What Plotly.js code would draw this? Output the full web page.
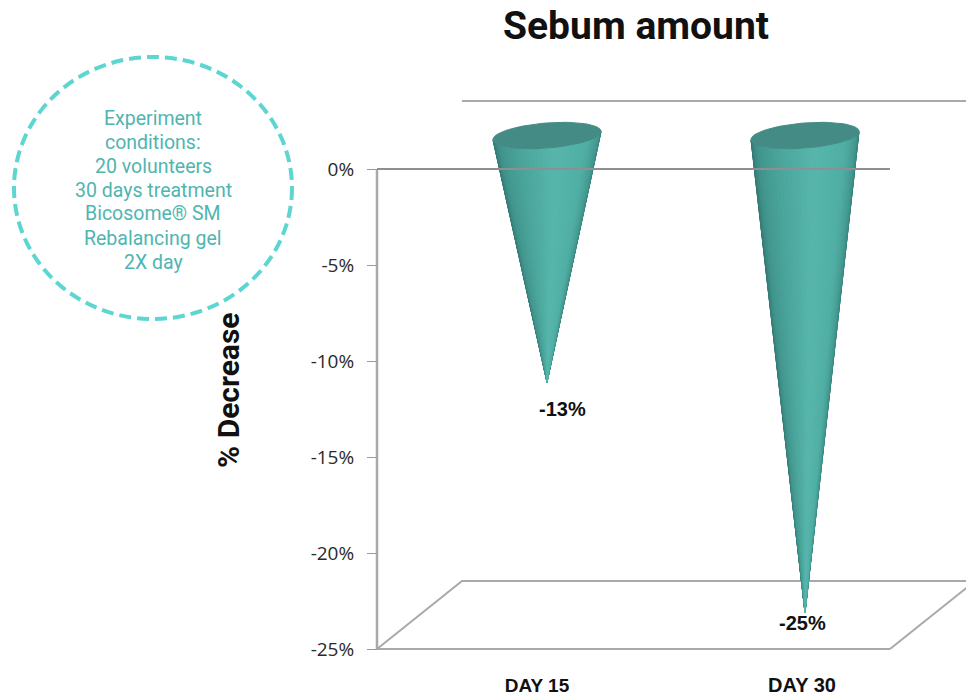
<!DOCTYPE html>
<html><head><meta charset="utf-8">
<script src="https://cdn.plot.ly/plotly-3.0.1.min.js"></script>
<style>html,body{margin:0;padding:0;background:#fff;overflow:hidden}#chart{width:966px;height:697px}</style>
</head><body><div id="chart"></div>
<script>
// ---- data ----
const categories = ["DAY 15", "DAY 30"];
const decreaseValues = [-13, -25];
const valueLabels = ["-13%", "-25%"];
const yTickValues = [0, -5, -10, -15, -20, -25];
const yTickLabels = ["0%", "-5%", "-10%", "-15%", "-20%", "-25%"];
const conditionLines = ["Experiment", "conditions:", "20 volunteers", "30 days treatment", "Bicosome\u00AE SM", "Rebalancing gel", "2X day"];

// ---- layout geometry (pixels of the page) ----
const W = 966, H = 697;
const plotL = 377, plotR = 890, plotT = 169, plotB = 649;
const catPx = [547, 805];
const xUnit = catPx[1] - catPx[0], yUnit = (plotB - plotT) / 25;
const xL = (plotL - catPx[0]) / xUnit, xR = (plotR - catPx[0]) / xUnit;
const yMin = yTickValues[yTickValues.length - 1];
const depthX = 85 / xUnit, depthY = 68 / yUnit;
const tipY = 36.5 / yUnit;      // cone point sits at mid depth of the 3D box
const capA = 54 / xUnit;        // cap ellipse
const capAy = 4.2 / yUnit, capB = 12.5 / yUnit, capBx = 0.6 / xUnit, capCy = 33.5 / yUnit;

const pxX = p => p / W;
const pxY = p => 1 - p / H;

const shade = [[0,'#2f6f6b'],[0.08,'#37807a'],[0.16,'#40938b'],[0.32,'#49a399'],[0.55,'#57b6ac'],[0.75,'#50aea4'],[0.9,'#40938c'],[1,'#2e7470']];
function hex(c){return [1,3,5].map(i=>parseInt(c.substr(i,2),16));}
function shadeAt(t){
  for(let i=1;i<shade.length;i++){ if(t<=shade[i][0]){
    const f=(t-shade[i-1][0])/(shade[i][0]-shade[i-1][0]);
    const a=hex(shade[i-1][1]),b=hex(shade[i][1]);
    return 'rgb('+a.map((v,k)=>Math.round(v+(b[k]-v)*f)).join(',')+')';
  }}
  return shade[shade.length-1][1];
}
const lineTrace = (x, y, line) => ({x, y, mode:'lines', line, hoverinfo:'skip', showlegend:false});
const traces = [];
// box lines behind the cones
const boxLine = {color:'#a9a9a9', width:2};
traces.push(lineTrace([xL, xL+depthX, xR+depthX], [yMin, yMin+depthY, yMin+depthY], boxLine));
traces.push(lineTrace([xR, xR+depthX], [yMin, yMin+depthY], boxLine));
traces.push(lineTrace([xL+depthX, xR+depthX], [depthY, depthY], boxLine));
traces.push(lineTrace([xL, xL], [0, yMin], {color:'#a9a9a9', width:2.5}));
traces.push(lineTrace([xL, xR], [yMin, yMin], {color:'#a9a9a9', width:2}));

// cones: fan of slices from the rim to the point, then the cap
const SLICES = 36;
categories.forEach((cat, c) => {
  const tx = c, ty = decreaseValues[c] + tipY;
  const rim = t => [c + capA*Math.cos(t) + capBx*Math.sin(t), capCy + capAy*Math.cos(t) - capB*Math.sin(t)];
  const order = Array.from({length:SLICES}, (_,i)=>i).sort((a,b)=>Math.abs((b+0.5)/SLICES-0.55)-Math.abs((a+0.5)/SLICES-0.55));
  order.forEach(i => {
    // walk the front half of the rim: left -> bottom -> right
    const p = rim(Math.PI - Math.PI*(i/SLICES)), q = rim(Math.PI - Math.PI*((i+1)/SLICES));
    const col = shadeAt((i+0.5)/SLICES);
    traces.push({x:[tx,p[0],q[0],tx], y:[ty,p[1],q[1],ty], mode:'lines', fill:'toself', fillcolor:col,
      line:{color:col,width:1}, hoverinfo:'skip', showlegend:false, name:cat});
  });
  const xs=[], ys=[];
  for (let i = 0; i <= 72; i++) { const r = rim(i/72*2*Math.PI); xs.push(r[0]); ys.push(r[1]); }
  traces.push({x:xs, y:ys, mode:'lines', fill:'toself', fillcolor:'#438b84', line:{color:'#438b84',width:1},
    hoverinfo:'skip', showlegend:false, name:cat});
});
// zero line crosses in front of the cones
traces.push(lineTrace([xL, xR], [0, 0], {color:'#8f8f8f', width:2}));

const ann = [];
const labelShift = [[15, 9.5],[-3, 26]];
categories.forEach((cat,c)=>ann.push({x:c, y:decreaseValues[c], xref:'x', yref:'y', text:'<b>'+valueLabels[c]+'</b>',
  showarrow:false, xanchor:'center', yanchor:'middle', xshift:labelShift[c][0], yshift:labelShift[c][1], font:{family:'Liberation Sans', size:20, color:'#111'}}));
conditionLines.forEach((t,i)=>ann.push({x:pxX(153), y:pxY(118+i*24), xref:'paper', yref:'paper', xanchor:'center', yanchor:'middle', text:t, showarrow:false,
  font:{family:'Roboto', size:19.5, color:'#4fb5b0'}}));
ann.push({x:pxX(228), y:pxY(390), xref:'paper', yref:'paper', xanchor:'center', yanchor:'middle', text:'<b>% Decrease</b>', textangle:-90, showarrow:false,
  font:{family:'Roboto', size:30, color:'#111'}});

const layout = {
  width:W, height:H, paper_bgcolor:'#fff', plot_bgcolor:'#fff', showlegend:false,
  margin:{l:0, r:0, t:0, b:0, pad:0},
  title:{text:'<b>Sebum amount</b>', x:636/W, xanchor:'center', y:1-25/H, yanchor:'middle', font:{family:'Roboto', size:39, color:'#111'}},
  xaxis:{domain:[0,1], range:[-catPx[0]/xUnit, (W-catPx[0])/xUnit], type:'linear', anchor:'free', position:(H-plotB)/H,
    tickmode:'array', tickvals:[-10/xUnit, 1-3/xUnit],
    ticktext:['<span style="font-size:19px"><b>'+categories[0]+'</b></span>','<span style="font-size:20px"><b>'+categories[1]+'</b></span>'], ticks:'', ticklabelstandoff:23,
    tickfont:{family:'Liberation Sans', size:19, color:'#111'}, showgrid:false, zeroline:false, showline:false},
  yaxis:{domain:[0,1], range:[-(H-plotT)/yUnit, plotT/yUnit], anchor:'free', position:plotL/W,
    tickmode:'array', tickvals:yTickValues, ticktext:yTickLabels, ticks:'outside', ticklen:10, tickwidth:1, tickcolor:'#999', ticklabelstandoff:9,
    tickfont:{family:'Open Sans', size:19, color:'#2a2a2a'}, showgrid:false, zeroline:false, showline:false},
  shapes:[{type:'circle', xref:'paper', yref:'paper', x0:pxX(14), x1:pxX(292), y0:pxY(319), y1:pxY(57),
    line:{color:'#5dd6d2', width:4, dash:'12px,6px'}, layer:'above'}],
  annotations:ann
};
Plotly.newPlot('chart', traces, layout, {displayModeBar:false, staticPlot:true});
</script></body></html>
